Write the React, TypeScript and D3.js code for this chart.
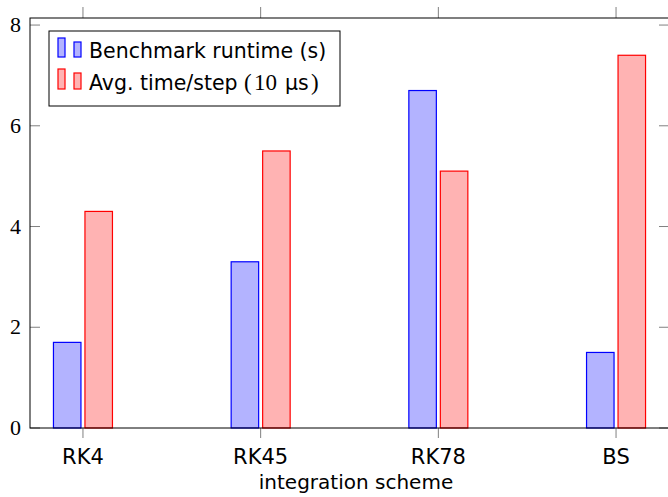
import React from "react";
import * as d3 from "d3";

const categories = ["RK4", "RK45", "RK78", "BS"];
const runtime = [1.7, 3.3, 6.7, 1.5];
const timePerStep = [4.3, 5.5, 5.1, 7.4];
const yTicks = [0, 2, 4, 6, 8];
const seriesNames = ["Benchmark runtime (s)", "Avg. time/step"];

const W = 668;
const H = 497;
const left = 30;
const right = 669;
const top = 18;
const bottom = 428;

export default function App() {
  const x = d3.scalePoint<string>().domain(categories).range([left, right]).padding(0.298);
  const y = d3.scaleLinear().domain([0, 8.14]).range([bottom, top]);
  const barW = 27.5;
  const gap = 2;
  const sans = "'DejaVu Sans', sans-serif";
  const serif = "'Liberation Serif', 'DejaVu Serif', serif";
  const blueFill = "#b3b3ff";
  const redFill = "#ffb3b3";

  return (
    <svg width={W} height={H} style={{ position: "absolute", left: 0, top: 0, background: "#fff" }}>
      {/* bars */}
      {categories.map((c, i) => {
        const cx = x(c)!;
        return (
          <g key={c}>
            <rect x={cx - gap - barW} y={y(runtime[i])} width={barW} height={bottom - y(runtime[i])}
              fill={blueFill} stroke="#0000ff" strokeWidth={1.2} />
            <rect x={cx + gap} y={y(timePerStep[i])} width={barW} height={bottom - y(timePerStep[i])}
              fill={redFill} stroke="#ff0000" strokeWidth={1.2} />
          </g>
        );
      })}
      {/* x ticks */}
      {categories.map((c) => (
        <g key={"t" + c} stroke="#808080" strokeWidth={1}>
          <line x1={x(c)!} x2={x(c)!} y1={bottom} y2={bottom + 10} />
          <line x1={x(c)!} x2={x(c)!} y1={top} y2={top - 11} />
        </g>
      ))}
      {/* y ticks */}
      {yTicks.map((t) => (
        <g key={"y" + t}>
          <line x1={left} x2={left + 10} y1={y(t)} y2={y(t)} stroke="#808080" />
          <line x1={right - 10} x2={right} y1={y(t)} y2={y(t)} stroke="#808080" />
          <text x={21} y={y(t) + 7} textAnchor="end" fontFamily={serif} fontSize={22} fill="#000">
            {t}
          </text>
        </g>
      ))}
      {/* frame */}
      <rect x={left} y={top} width={right - left} height={bottom - top} fill="none" stroke="#000" strokeWidth={1} />
      {/* x labels */}
      {categories.map((c) => (
        <text key={"l" + c} x={x(c)!} y={464} textAnchor="middle" fontFamily={sans} fontSize={21} fill="#000">
          {c}
        </text>
      ))}
      <text x={356} y={489} textAnchor="middle" fontFamily={sans} fontSize={20} fill="#000">
        integration scheme
      </text>
      {/* legend */}
      <g>
        <rect x={49} y={31} width={291} height={75} fill="#fff" stroke="#000" strokeWidth={1} />
        <rect x={58} y={38} width={7} height={19} fill={blueFill} stroke="#0000ff" strokeWidth={1.2} />
        <rect x={74} y={42} width={7} height={15} fill={blueFill} stroke="#0000ff" strokeWidth={1.2} />
        <text x={89} y={58} fontFamily={sans} fontSize={20.5} fill="#000">{seriesNames[0]}</text>
        <rect x={58} y={69} width={7} height={20} fill={redFill} stroke="#ff0000" strokeWidth={1.2} />
        <rect x={74} y={73} width={7} height={16} fill={redFill} stroke="#ff0000" strokeWidth={1.2} />
        <text y={90} fontFamily={sans} fontSize={20.5} fill="#000">
          <tspan x={89}>{seriesNames[1]}</tspan>
          <tspan x={244} fontFamily={serif} fontSize={23}>(</tspan>
          <tspan x={254} fontFamily={serif} fontSize={23}>10</tspan>
          <tspan x={285}>μs</tspan>
          <tspan x={311} fontFamily={serif} fontSize={23}>)</tspan>
        </text>
      </g>
    </svg>
  );
}
